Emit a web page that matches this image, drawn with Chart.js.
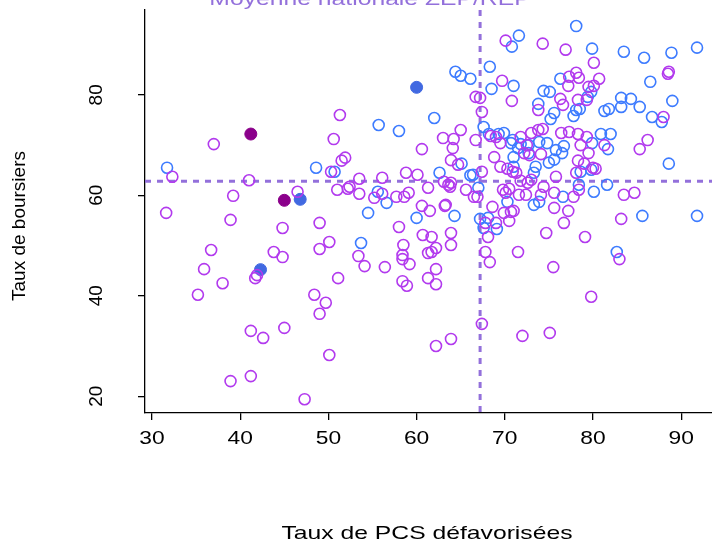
<!DOCTYPE html>
<html><head><meta charset="utf-8">
<script src="https://cdn.jsdelivr.net/npm/chart.js@4"></script>
<style>html,body{margin:0;padding:0;background:#fff;overflow:hidden}#c{display:block}</style>
</head><body>
<canvas id="c" width="720" height="547"></canvas>
<script>
// open blue circles: [taux PCS défavorisées, taux de boursiers]
const blueX = [31.7,48.6,50.7,55.7,58,62,62.6,65.1,66.1,54.5,56.6,60,64.3,53.7,55.6,
  78.1,71.6,70.8,79.9,83.5,85.8,88.9,91.8,68.3,64.4,65,66.1,68.5,71,76.3,74.4,75.1,73.8,75.6,75.2,
  78.1,78.5,77.8,79.8,79.4,81.3,81.8,83.2,84.3,83.2,85.3,86.5,89,86.7,87.8,67.6,68.2,69.3,69.9,
  70.7,71.8,72.7,73.9,74.8,75.8,76.5,76.7,80.9,82,81.7,79.9,71,75,75.6,66.4,67,73.3,73.5,78.6,79.8,
  78.4,80.1,81.6,76.6,73.3,73.9,70.3,67.2,68.1,67.6,69.1,88.6,85.6,91.8,82.7,70.9,71.5,72.7,71];
const blueY = [65.5,65.5,64.7,74,72.8,75.4,64.5,66.3,64,56.5,58.5,55.5,55.9,50.5,60.7,
  93.7,91.8,89.6,89.2,88.6,87.4,88.4,89.4,85.6,84.6,83.8,83.2,81.2,81.8,83.2,80.8,80.6,78.2,76.4,75.2,
  77,77.2,75.8,80.6,79.6,76.8,77.2,79.4,79.2,77.6,77.6,82.6,78.8,75.6,74.6,73.6,72.2,72.2,72.4,
  70.4,70.2,70,70.6,70.4,69,68.4,69.8,72.2,72.2,69.2,70.4,67.6,66.5,67.1,64.1,61.5,64.5,65.7,64.7,65.1,
  62.1,60.7,62.1,59.7,58.1,58.7,58.7,55.3,55.5,53.5,53.3,66.3,55.9,55.9,48.7,71,69.4,68.4,65.7];
// open purple circles
const purpleX = [37,32.3,41,39.2,31.6,38.9,44.8,49,46.5,36.7,35.9,38,35.2,41.7,41.9,43.8,44.8,49,50.1,
  51.1,48.4,49.7,49,41.2,42.6,45,50.1,38.9,41.2,47.3,51.3,50.6,51.5,51.9,50.3,51,52.2,52.4,53.5,53.5,
  55.2,56.1,56.1,57.7,58.6,59.1,58.8,60.1,60.6,61.3,58,58.5,58.4,58.4,59.2,56.4,53.4,54.1,58.4,58.9,
  60.6,61.5,60.7,61.7,62.2,61.7,61.3,63.9,63.9,62.2,61.3,62.2,62.2,63.9,63.2,63,64.2,64.1,65,63.9,64.7,
  63.1,63.8,65.6,66.5,66.7,
  70.1,74.3,76.9,80.1,69.7,70.8,67.2,67.4,77.3,78.1,78.4,77.2,80.7,80.1,79.5,76.3,76.6,78.3,79.3,73.8,
  88.6,88.5,88,85.3,86.2,66.7,68.4,69,69.5,68.8,73,73.8,74.3,71.8,72.5,76.4,77.3,78.3,79.3,78.6,79.5,
  81.3,72.2,72.8,74.1,78.3,79,80,80.3,78.1,75.8,69.5,70.3,70.9,71.3,71.8,72.6,73,74.1,75.6,74.4,77.8,
  78.4,69.8,70.5,71.6,72.4,70.1,67.4,66.9,63.6,63.9,63.3,68.6,69.9,70.7,71,75.6,77.2,76.7,67.8,69,70.5,
  68.1,83.5,84.7,83.2,79.1,74.7,71.5,67.8,68.3,75.5,83,79.8,67.4,72,75.1];
const purpleY = [70.2,63.7,63,59.9,56.5,55.1,53.5,54.5,60.7,49.1,45.3,42.5,40.2,43.5,44.1,48.7,47.7,49.3,50.7,
  43.5,40.2,38.6,36.4,33,31.6,33.6,28.2,23,24,19.4,76,71.2,66.9,67.5,64.7,61.1,61.3,61.7,63.3,60.3,
  59.5,63.5,60.3,59.7,59.7,60.5,64.5,64.1,69.2,61.5,53.7,50.1,48.1,47.3,46.3,45.7,47.9,45.9,42.9,42,
  57.9,56.9,52.1,51.7,49.5,48.7,48.5,52.5,50.1,45.3,43.5,42.3,30,31.4,57.9,71.4,71.2,69.4,73,67,66.1,
  62.7,61.7,61.1,59.7,79.6,
  90.8,90.2,89,86.4,82.8,78.8,79.4,76.6,83.6,84.4,83.4,81.8,83.2,81.8,81.6,79.2,78,79,79,77,
  84.6,84.2,75.6,69.2,71,71,71.8,71.6,70.4,67.6,72.4,73,73.2,71.6,70,72.4,72.6,72.2,71.6,70,68.4,
  70,68.4,68,68.2,66.9,66.3,65.5,65.3,64.5,63.7,65.7,65.3,64.7,64.5,62.9,62.5,63.1,60.1,60.5,61.7,59.7,
  61.1,61.1,61.3,60.1,60.1,60.5,64.7,59.7,62.1,62.5,58.1,57.7,56.5,56.7,56.9,57.5,56.9,54.5,54.5,54.5,54.9,
  51.7,60.1,60.5,55.3,51.7,52.5,48.7,48.7,46.7,45.7,47.3,39.8,34.4,32,32.6];
// highlighted points
const darkPurpleX = [41.2, 45];
const darkPurpleY = [72.2, 59];
const royalBlueX = [42.3, 46.8, 60];
const royalBlueY = [45.2, 59.2, 81.5];
const meanPCS = 67.2;
const meanBoursiers = 62.8;
const xTicks = [30, 40, 50, 60, 70, 80, 90];
const yTicks = [20, 40, 60, 80];

const pts = (xs, ys) => xs.map((x, i) => ({x: x, y: ys[i]}));

// horizontal text, a little wider than the font (like the original export)
function wideText(ctx, txt, x, y, sx) {
  ctx.save();
  ctx.translate(x, y);
  ctx.scale(sx, 1);
  ctx.fillText(txt, 0, 0);
  ctx.restore();
}

const overlay = {
  id: 'overlay',
  beforeDatasetsDraw(chart) {
    const {ctx, chartArea: a, scales: {x, y}} = chart;
    ctx.save();
    ctx.strokeStyle = '#9370DB';
    ctx.lineWidth = 3;
    ctx.setLineDash([6, 6]);
    const px = x.getPixelForValue(meanPCS), py = y.getPixelForValue(meanBoursiers);
    ctx.beginPath(); ctx.moveTo(px, a.top); ctx.lineTo(px, a.bottom); ctx.stroke();
    ctx.beginPath(); ctx.moveTo(a.left, py); ctx.lineTo(a.right, py); ctx.stroke();
    ctx.restore();
  },
  afterDraw(chart) {
    const {ctx, scales: {x, y}} = chart;
    ctx.save();
    ctx.fillStyle = '#000';
    ctx.font = '19px "Liberation Sans", Arial, sans-serif';
    ctx.textAlign = 'center';
    ctx.textBaseline = 'middle';
    xTicks.forEach(v => wideText(ctx, String(v), x.getPixelForValue(v), 439, 1.2));
    yTicks.forEach(v => {
      ctx.save();
      ctx.translate(97, y.getPixelForValue(v));
      ctx.rotate(-Math.PI / 2);
      ctx.fillText(String(v), 0, 0);
      ctx.restore();
    });
    wideText(ctx, 'Taux de PCS défavorisées', 427, 534, 1.3);
    ctx.save();
    ctx.translate(20, 226);
    ctx.rotate(-Math.PI / 2);
    ctx.fillText('Taux de boursiers', 0, 0);
    ctx.restore();
    ctx.fillStyle = '#9370DB';
    wideText(ctx, 'Moyenne nationale ZEP/REP', 370, 0, 1.3);
    ctx.restore();
  }
};

new Chart(document.getElementById('c'), {
  type: 'scatter',
  data: {
    datasets: [
      {data: pts(purpleX, purpleY), borderColor: '#B23AEE', backgroundColor: 'transparent', borderWidth: 1.6, pointRadius: 5.5},
      {data: pts(blueX, blueY), borderColor: '#3D7BFF', backgroundColor: 'transparent', borderWidth: 1.6, pointRadius: 5.5},
      {data: pts(darkPurpleX, darkPurpleY), borderColor: '#8B008B', backgroundColor: '#8B008B', borderWidth: 1, pointRadius: 6},
      {data: pts(royalBlueX, royalBlueY), borderColor: '#4169E1', backgroundColor: '#4169E1', borderWidth: 1, pointRadius: 6}
    ]
  },
  options: {
    responsive: false,
    animation: false,
    layout: {padding: {top: 10, right: 0, left: 0, bottom: 0}},
    plugins: {legend: {display: false}, tooltip: {enabled: false}},
    scales: {
      x: {
        min: 29.2, max: 93.6,
        afterFit: s => { s.height = 134; s.paddingLeft = 0; s.paddingRight = 0; },
        afterBuildTicks: s => { s.ticks = xTicks.map(v => ({value: v})); },
        ticks: {display: false},
        grid: {drawOnChartArea: false, tickLength: 7, color: '#000', lineWidth: 1.3},
        border: {color: '#000', width: 1.3}
      },
      y: {
        min: 16.65, max: 96.9,
        afterFit: s => { s.width = 145; s.paddingTop = 0; s.paddingBottom = 0; },
        afterBuildTicks: s => { s.ticks = yTicks.map(v => ({value: v})); },
        ticks: {display: false},
        grid: {drawOnChartArea: false, tickLength: 7, color: '#000', lineWidth: 1.3},
        border: {color: '#000', width: 1.3}
      }
    }
  },
  plugins: [overlay]
});
</script>
</body></html>
